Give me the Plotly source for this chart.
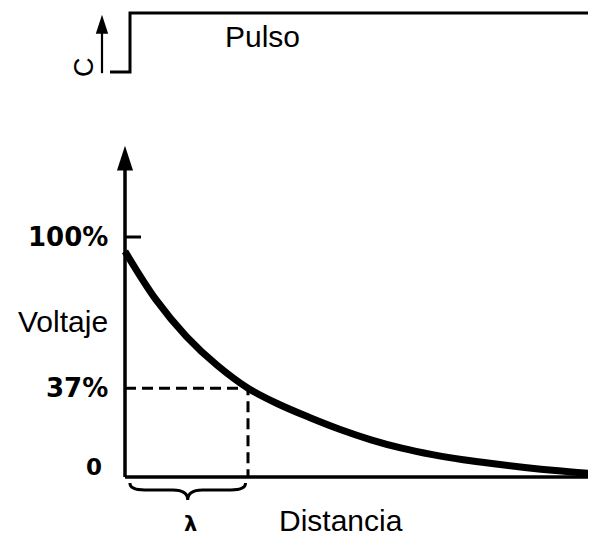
import plotly.graph_objects as go

# pulso de corriente (arriba)
tiempo = [-1, 0, 0, 23.3]
corriente = [0, 0, 1, 1]

# voltaje frente a distancia (distancia en unidades de lambda)
distancia = [0, 0.25, 0.5, 0.75, 1.0, 1.25, 1.5, 1.75, 2.0, 2.25, 2.5, 2.75, 3.0, 3.25, 3.5, 3.83]
voltaje = [94, 74, 58.5, 46.5, 37, 30.3, 24.8, 19.8, 15.5, 12.0, 9.3, 7.2, 5.5, 4.0, 2.7, 1.3]

lam = 1.0      # constante de longitud
v_lam = 37     # % del voltaje a una distancia lambda
v_max = 138    # punta de la flecha del eje

etiquetas_y = [0, 37, 100]
textos_y = ['0', '37%', '100%']

negro = 'black'
fig = go.Figure()

# ---- grafico principal ----
fig.add_trace(go.Scatter(x=distancia, y=voltaje, mode='lines',
                         line=dict(color=negro, width=7, shape='spline')))
# lineas discontinuas de lambda
fig.add_trace(go.Scatter(x=[0, lam, lam], y=[v_lam, v_lam, 0], mode='lines',
                         line=dict(color=negro, width=3, dash='11px,6px')))
# ejes
fig.add_trace(go.Scatter(x=[0, distancia[-1]], y=[0, 0], mode='lines',
                         line=dict(color=negro, width=3.5)))
fig.add_trace(go.Scatter(x=[0, 0], y=[0, v_max - 6], mode='lines',
                         line=dict(color=negro, width=3.5)))
fig.add_trace(go.Scatter(x=[0], y=[v_max], mode='markers',
                         marker=dict(symbol='arrow', size=26, color=negro)))
# marca del 100%
fig.add_trace(go.Scatter(x=[0, 0.13], y=[100, 100], mode='lines',
                         line=dict(color=negro, width=3)))

# ---- pulso ----
fig.add_trace(go.Scatter(x=tiempo, y=corriente, mode='lines', xaxis='x2', yaxis='y2',
                         line=dict(color=negro, width=3)))
fig.add_trace(go.Scatter(x=[-1.4, -1.4], y=[-0.02, 0.75], mode='lines', xaxis='x2', yaxis='y2',
                         line=dict(color=negro, width=2.2)))
fig.add_trace(go.Scatter(x=[-1.4], y=[0.97], mode='markers', xaxis='x2', yaxis='y2',
                         marker=dict(symbol='arrow', size=20, color=negro)))

# llave bajo lambda
x0, x1 = 0.04, 0.98
xm = (x0 + x1) / 2
yt, ym, yk = -2.5, -5.4, -9.6
fig.add_shape(type='path', xref='x', yref='y',
              path=(f'M {x0},{yt} Q {x0},{ym} {x0 + 0.12},{ym} L {xm - 0.12},{ym} '
                    f'Q {xm},{ym} {xm},{yk} Q {xm},{ym} {xm + 0.12},{ym} '
                    f'L {x1 - 0.12},{ym} Q {x1},{ym} {x1},{yt}'),
              line=dict(color=negro, width=3))

bold = dict(family='DejaVu Sans', size=26, color=negro, weight='bold')
normal = dict(family='Liberation Sans, Arial', size=30, color=negro)

anots = []
for v, t in zip(etiquetas_y, textos_y):
    f = dict(bold)
    xa = -0.12
    if t == '0':
        f['size'] = 23
        xa = -0.17
    anots.append(dict(x=xa, y=v + (4 if t == '0' else 0), text=t, showarrow=False,
                      xanchor='right', yanchor='middle', font=f))
anots += [
    dict(x=-0.12, y=65, text='Voltaje', showarrow=False, xanchor='right', yanchor='middle', font=normal),
    dict(x=1.76, y=-18.0, text='Distancia', showarrow=False, xanchor='center', yanchor='middle', font=normal),
    dict(x=0.53, y=-19.5, text='λ', showarrow=False, xanchor='center', yanchor='middle',
         font=dict(family='DejaVu Sans', size=21, color=negro, weight='bold')),
    dict(x=6.6, y=0.61, xref='x2', yref='y2', text='Pulso', showarrow=False,
         xanchor='center', yanchor='middle', font=normal),
    dict(x=-2.3, y=0.085, xref='x2', yref='y2', text='C', showarrow=False, textangle=-90,
         xanchor='center', yanchor='middle', font=dict(family='Liberation Sans', size=27, color=negro)),
]

# la pagina deja 8 px de margen arriba y a la izquierda: la figura ocupa el resto
fig.update_layout(
    width=588, height=530,
    margin=dict(l=0, r=0, t=0, b=0),
    paper_bgcolor='white', plot_bgcolor='white',
    showlegend=False,
    xaxis=dict(range=[-117 / 123, 471 / 123], domain=[0, 1], visible=False),
    yaxis=dict(range=[-61 / 2.4, 469 / 2.4], domain=[0, 1], visible=False),
    xaxis2=dict(range=[-6.1, 23.3], domain=[0, 1], anchor='y2', overlaying='x', visible=False),
    yaxis2=dict(range=[-466 / 59, 64 / 59], domain=[0, 1], anchor='x2', overlaying='y', visible=False),
    annotations=anots,
)

fig.write_html("out.html")
